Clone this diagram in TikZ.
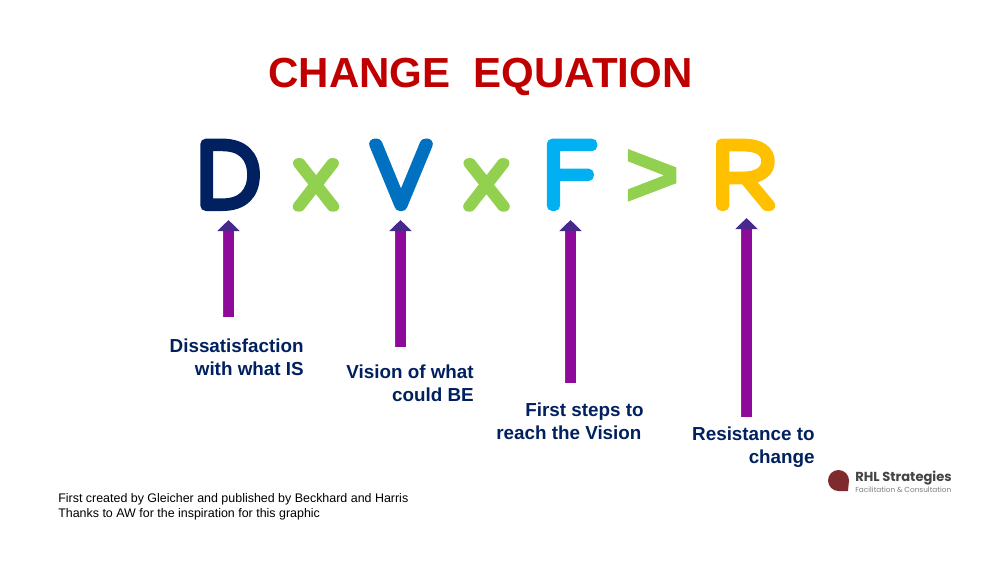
\documentclass[tikz,border=0pt]{standalone}
\usepackage{fontspec}
\usepackage{xcolor}
\usetikzlibrary{arrows.meta, positioning}
\setmainfont{Liberation Sans}
\newfontfamily\letterfont[FakeBold=12.6]{Poppins Thin}
\newfontfamily\logofont{Poppins}
\definecolor{TitleRed}{HTML}{C00000}
\definecolor{LetterNavy}{HTML}{002060}
\definecolor{LetterGreen}{HTML}{92D050}
\definecolor{LetterBlue}{HTML}{0070C0}
\definecolor{LetterSky}{HTML}{00B0F0}
\definecolor{LetterGold}{HTML}{FFC000}
\definecolor{ArrowPurple}{HTML}{8E0A9A}
\definecolor{ArrowEdge}{HTML}{4A4A9C}
\definecolor{ArrowHead}{HTML}{47288C}
\definecolor{LogoRed}{HTML}{7F2A2C}
\definecolor{LogoGrey}{HTML}{444444}
\newcommand{\roundtext}{\special{pdf:code 1 j 1 J}}

\begin{document}
\begin{tikzpicture}[
  x=0.025cm, y=-0.025cm,
  letter/.style n args={2}{inner sep=0pt, anchor=base, font=\fontsize{#1}{70}\letterfont\addfontfeature{FakeStretch=#2}\roundtext},
  label/.style={inner sep=0pt, anchor=north east, align=right, text=LetterNavy, font=\fontsize{13.4}{16.2}\selectfont\bfseries},
  uparrow/.style={draw=ArrowPurple, line width=0.25cm,
    preaction={draw=ArrowEdge, line width=0.285cm, arrows=-, shorten >=0.25cm},
    -{Triangle[width=0.55cm, length=0.28cm, color=ArrowHead, fill=ArrowHead]}},
  ]
  \useasboundingbox (0,0) rectangle (1000,562);
  \node[inner sep=0pt, anchor=base, text=TitleRed, font=\fontsize{29.9}{32}\selectfont\bfseries] (title) at (480.5,87) {CHANGE\ \ EQUATION};

  \node[letter={62}{1.0}, text=LetterNavy] (letD) at (229,205.5) {D};
  \node[letter={57}{1.22}, text=LetterGreen] (timesA) at (316,206.5) {x};
  \node[letter={62}{1.08}, text=LetterBlue] (letV) at (401,205.5) {V};
  \node[letter={57}{1.22}, text=LetterGreen] (timesB) at (486.5,206.5) {x};
  \node[letter={62}{1.32}, text=LetterSky] (letF) at (569.5,205.5) {F};
  \node[inner sep=0pt, anchor=base, text=LetterGreen, font=\fontsize{66}{70}\selectfont\bfseries\addfontfeature{FakeBold=2}] (greater) at (652,206) {>};
  \node[letter={62}{1.35}, text=LetterGold] (letR) at (743,205.5) {R};

  \coordinate (tipD) at (228.5,220);
  \coordinate (footD) at (228.5,317);
  \coordinate (tipV) at (400.5,220);
  \coordinate (footV) at (400.5,347);
  \coordinate (tipF) at (570.5,220);
  \coordinate (footF) at (570.5,383);
  \coordinate (tipR) at (746.5,218);
  \coordinate (footR) at (746.5,417);
  \draw[uparrow] (footD) -- (tipD);
  \draw[uparrow] (footV) -- (tipV);
  \draw[uparrow] (footF) -- (tipF);
  \draw[uparrow] (footR) -- (tipR);

  \node[label] (lblD) at (304,339) {Dissatisfaction\\with what IS};
  \node[label] (lblV) at (474,365) {Vision of what\\could BE};
  \node[label] (lblF) at (644,403) {First steps to\\reach the Vision\hspace*{4\pgflinewidth}};
  \node[label] (lblR) at (815,427) {Resistance to\\change};

  \node[inner sep=0pt, anchor=north west, align=left, font=\fontsize{8.85}{10.8}\selectfont] (credit) at (58,493) {First created by Gleicher and published by Beckhard and Harris\\Thanks to AW for the inspiration for this graphic};

  \fill[LogoRed] (848,491) -- (849,480.5) arc[start angle=0, end angle=-270, radius=10.5] -- cycle;
  \node[inner sep=0pt, anchor=base west, text=LogoGrey, font=\fontsize{9.3}{10}\logofont\bfseries] (logoname) at (855,481) {RHL Strategies};
  \node[inner sep=0pt, anchor=base west, text=LogoGrey!70, font=\fontsize{5.2}{6}\logofont] (logosub) at (855,492) {Facilitation \& Consultation};
\end{tikzpicture}
\end{document}
